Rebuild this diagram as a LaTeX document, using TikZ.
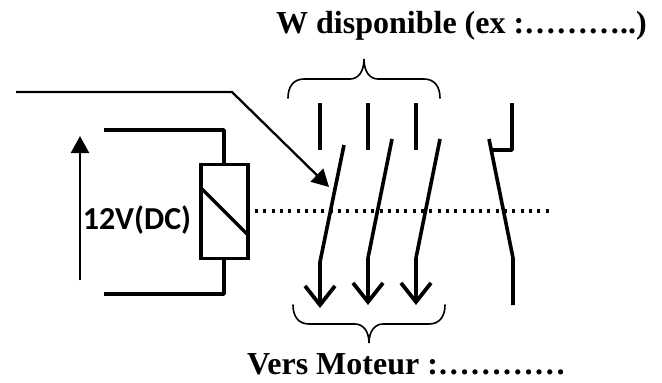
\documentclass[tikz,border=0pt]{standalone}
\usepackage{fontspec}
\setmainfont{Liberation Serif}
\newfontfamily\carl[BoldFont=Carlito Bold]{Carlito}
\usetikzlibrary{arrows.meta}
\begin{document}
\begin{tikzpicture}[x=1pt,y=-1pt,
  wire/.style={line width=3.4pt},
  pole/.style={line width=3.6pt,line cap=butt},
  open tip/.style={line width=3.6pt,-{Straight Barb[length=19pt,width=30pt,line width=3.8pt]}},
  solid tip/.style={line width=2.3pt,-{Triangle[length=17pt,width=18pt]}},
  brace/.style={line width=1.6pt,line cap=round},
  title/.style={font=\bfseries\fontsize{32}{36}\selectfont,anchor=base west,inner sep=0pt},
  coil/.style={draw,line width=3.4pt,minimum width=47pt,minimum height=94pt,inner sep=0pt}]
\useasboundingbox (0,0) rectangle (662,383);
\fill[white] (0,0) rectangle (662,383);
% coil
\node[coil] (coilbox) at (224.5,211.5) {};
\coordinate (wa) at (104,130);
\coordinate (wb) at (224,130);
\coordinate (wc) at (104,294);
\coordinate (wd) at (224,294);
\draw[wire,line join=round] (wa) -- (wb) -- (wb |- coilbox.north);
\draw[wire,line join=round] (wc) -- (wd) -- (wd |- coilbox.south);
\coordinate (da) at (201,188);
\coordinate (db) at (248,235);
\draw[wire] (da) -- (db);
\coordinate (va) at (80,280);
\coordinate (vb) at (80,136);
\draw[solid tip] (va) -- (vb);
\node[inner sep=0pt,font=\carl\bfseries\fontsize{32}{36}\selectfont] (volt) at (137,220) {12V(DC)};
% lever line
\coordinate (la) at (16,92);
\coordinate (lb) at (232,92);
\coordinate (lc) at (329,187);
\draw[solid tip,line join=round] (la) -- (lb) -- (lc);
% dotted
\coordinate (ma) at (255,211);
\coordinate (mb) at (550,211);
\draw[line width=3.2pt,dash pattern=on 3pt off 5.3pt] (ma) -- (mb);
% fixed contacts
\foreach \n/\x in {p/320,q/368,r/416}{
  \coordinate (\n a) at (\x,103);
  \coordinate (\n b) at (\x,150);
  \draw[pole] (\n a) -- (\n b);
}
% blades
\coordinate (ba) at (344,145);
\coordinate (bb) at (320,262);
\coordinate (bc) at (320,308);
\draw[open tip,line join=round] (ba) -- (bb) -- (bc);
\coordinate (ca) at (392,139);
\coordinate (cb) at (368,258);
\coordinate (cc) at (368,305);
\draw[open tip,line join=round] (ca) -- (cb) -- (cc);
\coordinate (ea) at (440,139);
\coordinate (eb) at (416,258);
\coordinate (ec) at (416,305);
\draw[open tip,line join=round] (ea) -- (eb) -- (ec);
% auxiliary contact
\coordinate (fa) at (512,103);
\coordinate (fb) at (512,150);
\coordinate (fc) at (493,150);
\draw[pole,line join=round] (fa) -- (fb) -- (fc);
\coordinate (ga) at (489,139);
\coordinate (gb) at (513,258);
\coordinate (gc) at (513,305);
\draw[pole,line join=round] (ga) -- (gb) -- (gc);
% top brace
\draw[brace] (288,98) .. controls (288,86) and (294,79) .. (304,79) -- (350,79)
  .. controls (358,79) and (364,72) .. (364,59)
  .. controls (364,72) and (370,79) .. (378,79) -- (424,79)
  .. controls (434,79) and (440,86) .. (440,98);
% bottom brace
\draw[brace] (293,305) .. controls (293,317) and (299,324) .. (309,324) -- (355,324)
  .. controls (363,324) and (369,331) .. (369,343)
  .. controls (369,331) and (375,324) .. (383,324) -- (429,324)
  .. controls (439,324) and (445,317) .. (445,305);
% titles
\node[title] (top) at (276,33) {W disponible (ex :………..)};
\node[title] (bot) at (247,374) {Vers Moteur :…………};
\end{tikzpicture}
\end{document}
